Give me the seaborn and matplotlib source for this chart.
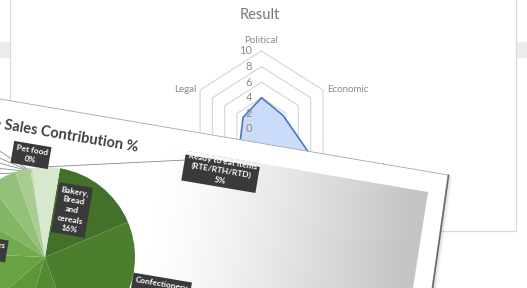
import textwrap
import numpy as np
import matplotlib
matplotlib.use("Agg")
import matplotlib.pyplot as plt
from matplotlib.patches import Polygon, Rectangle
import seaborn as sns

# ---------------- data ----------------
radar_title = "Result"
radar_axes_labels = ["Political", "Economic", "Technological", "Social", "Environmental", "Legal"]
radar_values = [4, 3.5, 9, 5, 3.5, 3]
radar_ticks = [0, 2, 4, 6, 8, 10]

pie_title = "Category wise Sales Contribution %"
pie_categories = ["Bakery, Bread and cereals", "Confectionery", "Dairy products", "Staples",
                  "Beverages", "Snacks", "Personal care", "Home care", "Frozen foods",
                  "Pet food", "Ready to eat items (RTE/RTH/RTD)"]
pie_shares = [16, 26, 10, 9, 12, 8, 6, 5, 2.7, 0.3, 5]
pie_colors = ["#44712a", "#4c7e2e", "#558a34", "#5e9739", "#68a343", "#73ab50",
              "#83b664", "#95c07a", "#a9cc93", "#bdd8ad", "#d8e8cf"]

# ---------------- setup ----------------
sns.set_theme(style="white")
plt.rcParams["font.family"] = ["Lato", "DejaVu Sans"]

W, H = 527, 288
fig = plt.figure(figsize=(W / 100, H / 100), dpi=100)
fig.patch.set_facecolor("white")

def P(x, y):
    return (x, H - y)

# background layer (pixel coordinates)
bg = fig.add_axes([0, 0, 1, 1], zorder=0)
bg.set_xlim(0, W); bg.set_ylim(0, H); bg.set_axis_off()
bg.add_patch(Rectangle(P(0, 58), 10, 16, fc="#ececec", ec="none"))
bg.add_patch(Rectangle(P(516, 58), 11, 16, fc="#ececec", ec="none"))
bg.add_patch(Rectangle(P(10, 231), 506, 240, fc="white", ec="#d9d9d9", lw=0.9))
bg.text(*P(260, 15), radar_title, ha="center", va="center", fontsize=10.5, color="#767676")

# ---------------- radar ----------------
cx, cy, sx, sy = 261.5, 129, 7.09, 7.8
span = 15
axr = fig.add_axes([(cx - span * sx) / W, (H - cy - span * sy) / H, 2 * span * sx / W, 2 * span * sy / H], zorder=1)
axr.set_xlim(-span, span); axr.set_ylim(-span, span); axr.set_axis_off()
axr.patch.set_alpha(0)

n = len(radar_axes_labels)
ang = np.deg2rad(np.arange(n) * 360 / n)
for lvl in radar_ticks[1:]:
    xs = np.append(lvl * np.sin(ang), 0)
    ys = np.append(lvl * np.cos(ang), lvl)
    axr.plot(xs, ys, color="#d9d9d9", lw=0.9, zorder=1)
vals = np.array(radar_values, dtype=float)
rx = np.append(vals * np.sin(ang), vals[0] * np.sin(ang[0]))
ry = np.append(vals * np.cos(ang), vals[0] * np.cos(ang[0]))
axr.fill(rx, ry, color="#c8dbf9", alpha=0.95, zorder=2, lw=0)
sns.lineplot(x=rx, y=ry, sort=False, estimator=None, ax=axr, color="#4a78c0", lw=1.2, zorder=3)
for t in radar_ticks:
    axr.text(-1.3, t, str(t), ha="right", va="center", fontsize=8, color="#8c8c8c", zorder=4)
lab_r = 11.3
for k, lab in enumerate(radar_axes_labels):
    s, c = np.sin(ang[k]), np.cos(ang[k])
    if abs(s) < 1e-6:
        axr.text(0, lab_r * c, lab, ha="center", va="center", fontsize=7, color="#8c8c8c")
    else:
        axr.text(np.sign(s) * 9.2, 10 * c, lab, ha="left" if s > 0 else "right",
                 va="center", fontsize=7, color="#8c8c8c")

# ---------------- rotated pie picture (overlay) ----------------
ov = fig.add_axes([0, 0, 1, 1], zorder=2)
ov.set_xlim(0, W); ov.set_ylim(0, H); ov.set_axis_off()
ov.patch.set_alpha(0)
rot = 9.6

def line_y(x, x0, y0, slope):
    return y0 + (x - x0) * slope

sl = 0.1696
frame = [P(-60, line_y(-60, 448, 175, sl)), P(448, 175), P(448 - 0.1416 * 135, 310), P(-60, 310)]
for i, a in enumerate([0.10, 0.07, 0.04]):
    d = 1.5 + i * 1.5
    ov.add_patch(Polygon([(x + d, y - d * 0.4) for x, y in frame], closed=True, fc="#000000", alpha=a, ec="none"))
ov.add_patch(Polygon(frame, closed=True, fc="white", ec="#a8a8a8", lw=0.6, zorder=1))
ov.plot([frame[1][0] + 0.6, frame[2][0] + 0.6], [frame[1][1], frame[2][1]], color="#6a6a6a", lw=1.1)

panel = [P(100, line_y(100, 428, 192, sl)), P(428, 192), P(428 - 0.156 * 110, 302), P(100, 302)]
panel_patch = Polygon(panel, closed=True, fc="none", ec="none")
ov.add_patch(panel_patch)
yy, xx = np.mgrid[0:H, 0:W]
th = np.deg2rad(rot)
u = xx * np.cos(th) + yy * np.sin(th)
g = np.clip((u - 190) / 250.0, 0, 1) ** 1.25
shade = 1 - 0.23 * g
img = np.dstack([shade, shade, shade])
im = ov.imshow(img, extent=(0, W, 0, H), origin="upper", zorder=1.5, interpolation="bilinear")
im.set_clip_path(panel_patch)
ov.set_xlim(0, W); ov.set_ylim(0, H)

# pie title
ov.text(*P(137, 152), pie_title, ha="right", va="baseline", rotation=-rot, rotation_mode="anchor",
        fontsize=10.5, fontweight="bold", color="#404040", zorder=3)

# leader lines
for (x0, y0, x1, y1) in [(32, 172, -5, 148), (32, 172, -5, 156), (33, 172, -5, 162),
                         (34, 172, -5, 168), (35, 172, -5, 174), (42, 168, 40, 166),
                         (44, 167, 186, 160)]:
    ov.plot([x0, x1], [H - y0, H - y1], color="#8a8a8a", lw=0.6, zorder=3)

# pie
center = P(45, 257)
wedges, _ = ov.pie(pie_shares, colors=pie_colors, startangle=90 - rot, counterclock=False,
                   center=center, radius=90, wedgeprops=dict(lw=0), frame=True)
for w in wedges:
    w.set_zorder(4)
ov.set_xlim(0, W); ov.set_ylim(0, H); ov.set_axis_off()

# data labels
box = dict(boxstyle="square,pad=0.35", fc="#3a3a3a", ec="none")
def plabel(i, width):
    return textwrap.fill(pie_categories[i], width) + f"\n{pie_shares[i]:.0f}%"

lab_specs = [
    (9, 8, (31, 155), "center", "center"),
    (0, 7, (72, 210), "center", "center"),
    (10, 18, (221, 171), "center", "center"),
    (1, 20, (136, 276), "left", "top"),
    (4, 20, (4, 251), "right", "center"),
]
for i, wd, (x, y), ha, va in lab_specs:
    ov.text(*P(x, y), plabel(i, wd), ha=ha, va=va, ma="center", rotation=-rot,
            rotation_mode="anchor", fontsize=6, fontweight="bold", color="white",
            bbox=box, zorder=6, linespacing=1.4)

# plot-area edge hides the top of the label that sticks out of the panel
mx0, mx1 = 160, 300
mask_white = [P(mx0, line_y(mx0, 448, 175, sl) + 1.0), P(mx1, line_y(mx1, 448, 175, sl) + 1.0),
              P(mx1, line_y(mx1, 428, 192, sl)), P(mx0, line_y(mx0, 428, 192, sl))]
ov.add_patch(Polygon(mask_white, closed=True, fc="white", ec="none", zorder=7))
mask_grad = Polygon([P(mx0, line_y(mx0, 428, 192, sl) - 0.3), P(mx1, line_y(mx1, 428, 192, sl) - 0.3),
                     P(mx1, line_y(mx1, 428, 192, sl) + 3.5), P(mx0, line_y(mx0, 428, 192, sl) + 3.5)],
                    closed=True, fc="none", ec="none")
ov.add_patch(mask_grad)
im2 = ov.imshow(img, extent=(0, W, 0, H), origin="upper", zorder=7.5, interpolation="bilinear")
im2.set_clip_path(mask_grad)
ov.set_xlim(0, W); ov.set_ylim(0, H)

fig.savefig("out.png", dpi=100)
